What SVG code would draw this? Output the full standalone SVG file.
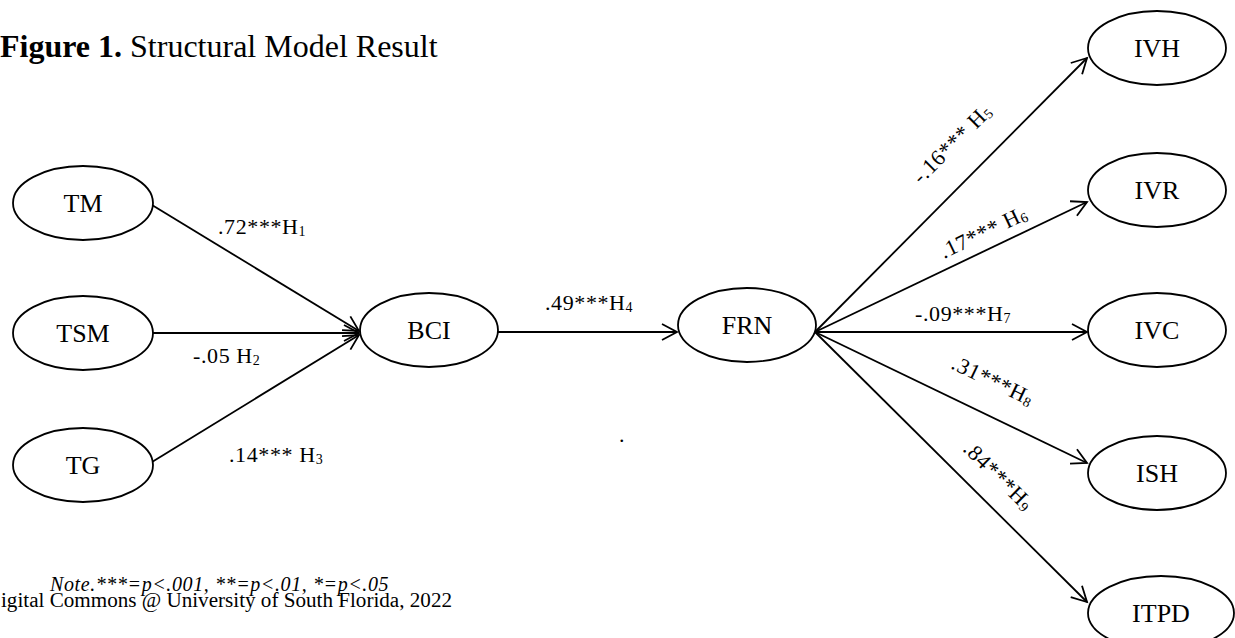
<svg xmlns="http://www.w3.org/2000/svg" width="1235" height="638" viewBox="0 0 1235 638">
  <defs>
    <marker id="arrow" markerUnits="userSpaceOnUse" markerWidth="30" markerHeight="30" viewBox="-20 -15 30 30" refX="0" refY="0" orient="auto">
      <path d="M-15,-8 L0,0 L-15,8" fill="none" stroke="#000" stroke-width="1.8"/>
    </marker>
    <style>
      .node ellipse { fill: #fff; stroke: #000; stroke-width: 1.8; }
      .node text { font-family: "Liberation Serif", "Times New Roman", serif; font-size: 26px; text-anchor: middle; fill: #000; }
      .edges line { stroke: #000; stroke-width: 1.8; marker-end: url(#arrow); }
      .lbl { font-family: "Liberation Serif", "Times New Roman", serif; font-size: 22px; letter-spacing: 0.6px; fill: #000; }
      .sub { font-size: 14px; letter-spacing: 0; }
      .title { font-family: "Liberation Serif", "Times New Roman", serif; font-size: 32px; fill: #000; }
      .note { font-family: "Liberation Serif", "Times New Roman", serif; font-size: 20px; font-style: italic; letter-spacing: 0.6px; fill: #000; }
      .foot { font-family: "Liberation Serif", "Times New Roman", serif; font-size: 20px; fill: #000; }
    </style>
  </defs>

  <rect width="1235" height="638" fill="#fff"/>

  <!-- heading -->
  <text class="title" x="0" y="57"><tspan font-weight="bold">Figure 1.</tspan> Structural Model Result</text>

  <!-- paths between constructs -->
  <g id="connectors" class="edges">
    <line x1="152" y1="205" x2="359" y2="331"/>
    <line x1="153" y1="333" x2="359" y2="333"/>
    <line x1="152" y1="462" x2="359" y2="335"/>
    <line x1="498" y1="332" x2="677" y2="332"/>
    <line x1="815" y1="332" x2="1087" y2="58"/>
    <line x1="815" y1="332" x2="1087" y2="202"/>
    <line x1="815" y1="332" x2="1087" y2="332"/>
    <line x1="815" y1="332" x2="1087" y2="463"/>
    <line x1="815" y1="332" x2="1087" y2="602"/>
  </g>

  <!-- path coefficients -->
  <g id="labels">
    <text class="lbl" x="218" y="234">.72***H<tspan class="sub" dy="2">1</tspan></text>
    <text class="lbl" x="193" y="363">-.05 H<tspan class="sub" dy="2">2</tspan></text>
    <text class="lbl" x="229" y="462">.14*** H<tspan class="sub" dy="2">3</tspan></text>
    <text class="lbl" x="545" y="310">.49***H<tspan class="sub" dy="2">4</tspan></text>
    <text class="lbl" transform="translate(921,185) rotate(-45)">-.16*** H<tspan class="sub" dy="2">5</tspan></text>
    <text class="lbl" transform="translate(944,259) rotate(-25.5)">.17*** H<tspan class="sub" dy="2">6</tspan></text>
    <text class="lbl" x="915" y="321">-.09***H<tspan class="sub" dy="2">7</tspan></text>
    <text class="lbl" transform="translate(950,368) rotate(25.7)">.31***H<tspan class="sub" dy="2">8</tspan></text>
    <text class="lbl" transform="translate(962,450) rotate(44.7)">.84***H<tspan class="sub" dy="2">9</tspan></text>
    <text class="lbl" x="619" y="442">.</text>
  </g>

  <g id="TM" class="node"><ellipse cx="83" cy="203" rx="70" ry="37"/><text x="83" y="212">TM</text></g>
  <g id="TSM" class="node"><ellipse cx="83" cy="333" rx="70" ry="37"/><text x="83" y="342">TSM</text></g>
  <g id="TG" class="node"><ellipse cx="83" cy="465" rx="70" ry="37"/><text x="83" y="474">TG</text></g>
  <g id="BCI" class="node"><ellipse cx="429" cy="330" rx="69" ry="37"/><text x="429" y="339">BCI</text></g>
  <g id="FRN" class="node"><ellipse cx="747" cy="325" rx="69" ry="37"/><text x="747" y="334">FRN</text></g>
  <g id="IVH" class="node"><ellipse cx="1157" cy="48" rx="69" ry="37"/><text x="1157" y="57">IVH</text></g>
  <g id="IVR" class="node"><ellipse cx="1157" cy="190" rx="69" ry="37"/><text x="1157" y="199">IVR</text></g>
  <g id="IVC" class="node"><ellipse cx="1157" cy="330" rx="69" ry="37"/><text x="1157" y="339">IVC</text></g>
  <g id="ISH" class="node"><ellipse cx="1157" cy="473" rx="69" ry="37"/><text x="1157" y="482">ISH</text></g>
  <g id="ITPD" class="node"><ellipse cx="1161" cy="613" rx="73" ry="37"/><text x="1161" y="622">ITPD</text></g>

  <!-- significance note and footer -->
  <text class="note" x="50" y="591">Note.***=p&lt;.001, **=p&lt;.01, *=p&lt;.05</text>
  <text class="foot" x="1" y="607" textLength="451" lengthAdjust="spacingAndGlyphs">igital Commons @ University of South Florida, 2022</text>
</svg>
